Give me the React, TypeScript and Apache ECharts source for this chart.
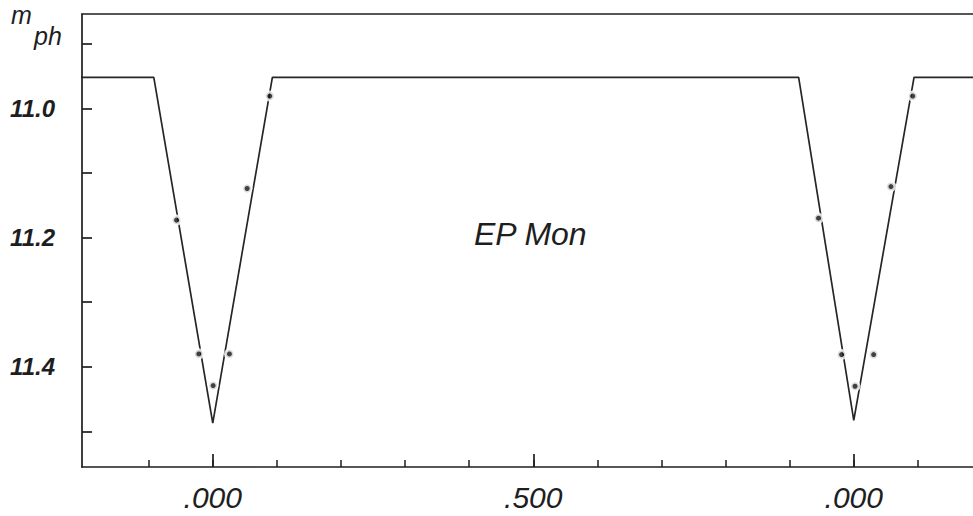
import React, { useEffect, useRef } from "react";
import * as echarts from "echarts";

// Axis ranges (phase, magnitude)
const phaseMin = -0.204;
const phaseMax = 1.186;
const magMin = 10.854;
const magMax = 11.555;

// Fitted light curve (phase, magnitude)
const curvePhase = [-0.25, -0.092, 0.0, 0.093, 0.914, 1.0, 1.094, 1.25];
const curveMag = [10.952, 10.952, 11.487, 10.952, 10.952, 11.483, 10.952, 10.952];

// Observed points
const obsPhase = [-0.0565, -0.0218, 0.0006, 0.026, 0.0536, 0.0889, 0.945, 0.981, 1.002, 1.031, 1.058, 1.092];
const obsMag = [11.173, 11.38, 11.429, 11.38, 11.124, 10.981, 11.17, 11.381, 11.43, 11.381, 11.121, 10.981];

// Ticks and labels
const xMinorTicks = [-0.1, 0, 0.1, 0.2, 0.3, 0.4, 0.5, 0.6, 0.7, 0.8, 0.9, 1.0, 1.1];
const xMajorTicks = [0, 0.5, 1.0];
const xTickLabels = [".000", ".500", ".000"];
const yTicks = [10.9, 11.0, 11.1, 11.2, 11.3, 11.4, 11.5];
const yLabelValues = [11.0, 11.2, 11.4];
const yTickLabels = ["11.0", "11.2", "11.4"];

const INK = "#1e1e1e";
const FONT = "Liberation Sans";

export default function App() {
  const ref = useRef<HTMLDivElement>(null);

  useEffect(() => {
    if (!ref.current) return;
    const chart = echarts.init(ref.current, undefined, { renderer: "svg" });

    const lookup = (vals: number[], labels: string[], v: number) => {
      for (let i = 0; i < vals.length; i++) {
        if (Math.abs(vals[i] - v) < 1e-6) return labels[i];
      }
      return "";
    };

    const curveData = curvePhase.map((p, i) => [p, curveMag[i]]);
    const obsData = obsPhase.map((p, i) => [p, obsMag[i]]);

    chart.setOption({
      animation: false,
      backgroundColor: "#ffffff",
      grid: { left: 82, right: 0, top: 14, bottom: 49 },
      xAxis: [
        {
          type: "value",
          position: "bottom",
          min: phaseMin,
          max: phaseMax,
          axisLine: { show: true, onZero: false, lineStyle: { color: INK, width: 1.7 } },
          axisTick: {
            show: true,
            inside: true,
            length: 7,
            customValues: xMinorTicks,
            lineStyle: { color: INK, width: 1.5 },
          },
          axisLabel: {
            show: true,
            customValues: xMajorTicks,
            formatter: (v: number) => lookup(xMajorTicks, xTickLabels, v),
            fontFamily: FONT,
            fontStyle: "italic",
            fontSize: 30,
            color: INK,
            margin: 30,
            verticalAlign: "middle",
          },
          splitLine: { show: false },
        },
        {
          type: "value",
          position: "bottom",
          min: phaseMin,
          max: phaseMax,
          axisLine: { show: false, onZero: false },
          axisTick: {
            show: true,
            inside: true,
            length: 13,
            customValues: xMajorTicks,
            lineStyle: { color: INK, width: 1.7 },
          },
          axisLabel: { show: false },
          splitLine: { show: false },
        },
        {
          type: "value",
          position: "top",
          min: phaseMin,
          max: phaseMax,
          axisLine: { show: true, onZero: false, lineStyle: { color: INK, width: 1.7 } },
          axisTick: { show: false },
          axisLabel: { show: false },
          splitLine: { show: false },
        },
      ],
      yAxis: {
        type: "value",
        inverse: true,
        min: magMin,
        max: magMax,
        axisLine: { show: true, onZero: false, lineStyle: { color: INK, width: 1.7 } },
        axisTick: {
          show: true,
          inside: true,
          length: 10,
          customValues: yTicks,
          lineStyle: { color: INK, width: 1.7 },
        },
        axisLabel: {
          show: true,
          customValues: yLabelValues,
          formatter: (v: number) => lookup(yLabelValues, yTickLabels, v),
          fontFamily: FONT,
          fontStyle: "italic",
          fontWeight: "bold",
          fontSize: 24,
          color: INK,
          margin: 27,
        },
        splitLine: { show: false },
      },
      graphic: [
        {
          type: "text",
          x: 11,
          y: 15,
          style: {
            text: "m",
            fontFamily: FONT,
            fontStyle: "italic",
            fontSize: 25,
            fill: INK,
            verticalAlign: "middle",
          },
        },
        {
          type: "text",
          x: 34,
          y: 36,
          style: {
            text: "ph",
            fontFamily: FONT,
            fontStyle: "italic",
            fontSize: 25,
            fill: INK,
            verticalAlign: "middle",
          },
        },
        {
          type: "text",
          x: 474,
          y: 234,
          style: {
            text: "EP Mon",
            fontFamily: FONT,
            fontStyle: "italic",
            fontSize: 32,
            fill: INK,
            verticalAlign: "middle",
          },
        },
      ],
      series: [
        {
          type: "line",
          xAxisIndex: 0,
          data: curveData,
          showSymbol: false,
          symbol: "none",
          clip: true,
          lineStyle: { color: "#262626", width: 1.7 },
          z: 2,
        },
        {
          type: "scatter",
          xAxisIndex: 0,
          data: obsData,
          symbol: "circle",
          symbolSize: 8,
          itemStyle: { color: "#111", borderColor: "#ffffff", borderWidth: 3 },
          z: 3,
        },
      ],
    });

    return () => chart.dispose();
  }, []);

  return (
    <div
      ref={ref}
      style={{ position: "fixed", left: 0, top: 0, width: 973, height: 516, background: "#fff" }}
    />
  );
}
